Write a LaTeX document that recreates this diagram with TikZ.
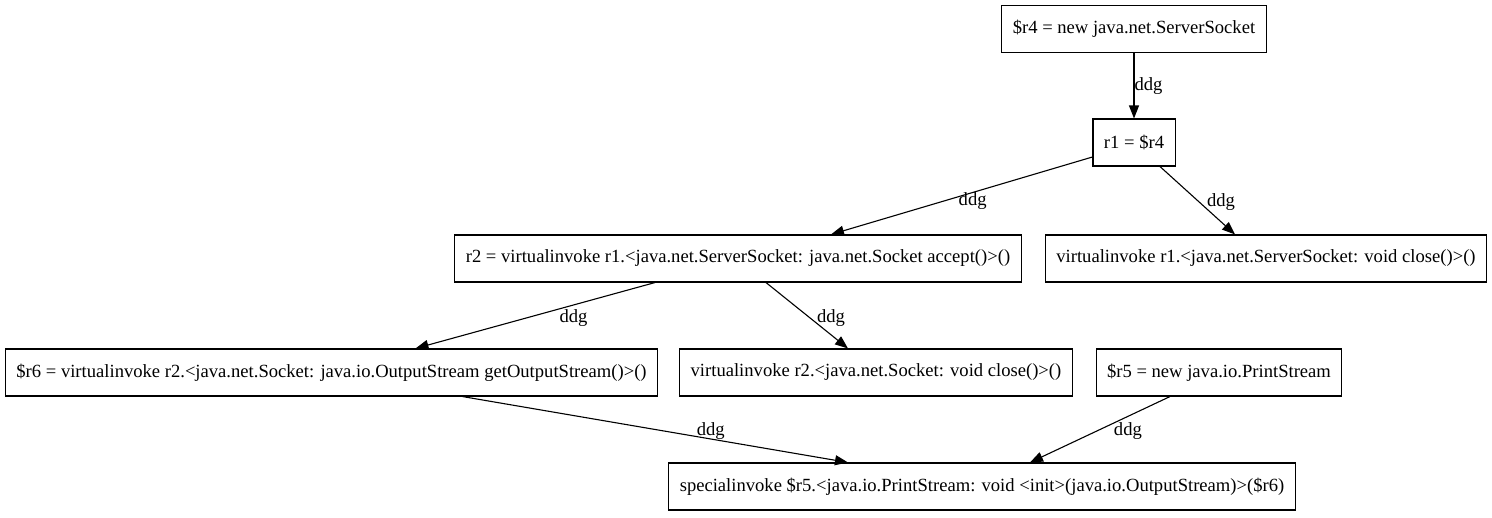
\documentclass[tikz,border=0pt]{standalone}
\usepackage{fontspec}
\setmainfont{Liberation Serif}
\usetikzlibrary{arrows.meta}
\begin{document}
\begin{tikzpicture}[x=1pt,y=-1pt,
  box/.style={draw,line width=1.1pt,rectangle,inner xsep=11pt,inner ysep=0pt,minimum height=47pt,font=\fontsize{18.6}{22}\selectfont},
  conn/.style={draw,line width=1.1pt,-{Triangle[length=13pt,width=10pt]}},
  lbl/.style={font=\fontsize{18.6}{22}\selectfont,inner sep=0pt}]
\useasboundingbox (0,0) rectangle (1492,517);
\node[box] (n1) at (1134,29) {\$r4 = new java.net.ServerSocket};
\node[box] (n2) at (1134,142.5) {r1 = \$r4};
\node[box] (n3) at (738,258.5) {r2 = virtualinvoke r1.<java.net.ServerSocket: java.net.Socket accept()>()};
\node[box] (n4) at (1266,258.5) {virtualinvoke r1.<java.net.ServerSocket: void close()>()};
\node[box] (n5) at (331.5,372.5) {\$r6 = virtualinvoke r2.<java.net.Socket: java.io.OutputStream getOutputStream()>()};
\node[box] (n6) at (876,372.5) {virtualinvoke r2.<java.net.Socket: void close()>()};
\node[box] (n7) at (1219,372.5) {\$r5 = new java.io.PrintStream};
\node[box] (n8) at (982,486.5) {specialinvoke \$r5.<java.io.PrintStream: void <init>(java.io.OutputStream)>(\$r6)};
\draw[conn] (n1.south) -- node[lbl,right,pos=0.5]{ddg} (n2.north);
\draw[conn] ([yshift=-14.5pt]n2.west) -- node[lbl,pos=0.458,yshift=-9pt]{ddg} ([xshift=93pt]n3.north);
\draw[conn] ([xshift=26pt]n2.south) -- node[lbl,pos=0.52,xshift=22pt]{ddg} ([xshift=-31pt]n4.north);
\draw[conn] ([xshift=-83pt]n3.south) -- node[lbl,pos=0.34,yshift=-13pt]{ddg} ([xshift=84pt]n5.north);
\draw[conn] ([xshift=28pt]n3.south) -- node[lbl,pos=0.537,xshift=21pt]{ddg} ([xshift=-28pt]n6.north);
\draw[conn] ([xshift=131pt]n5.south) -- node[lbl,pos=0.644,yshift=8pt]{ddg} ([xshift=-134pt]n8.north);
\draw[conn] ([xshift=-49pt]n7.south) -- node[lbl,pos=0.522,xshift=31pt]{ddg} ([xshift=48pt]n8.north);
\end{tikzpicture}
\end{document}
